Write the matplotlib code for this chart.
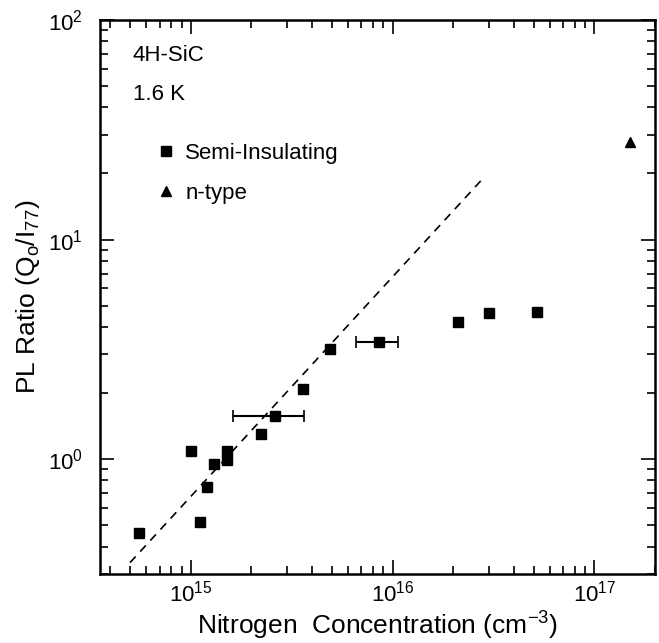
import matplotlib
matplotlib.use("Agg")
import matplotlib.pyplot as plt
from matplotlib.ticker import LogLocator, NullFormatter

plt.rcParams["font.family"] = ["Liberation Sans", "DejaVu Sans"]
plt.rcParams["mathtext.default"] = "regular"

# semi-insulating samples: nitrogen concentration (cm^-3) vs PL ratio
si_conc = [5.56e14, 1.0e15, 1.11e15, 1.21e15, 1.31e15, 1.51e15, 1.51e15,
           2.23e15, 2.62e15, 3.61e15, 4.9e15, 8.55e15, 2.10e16, 3.01e16, 5.2e16]
si_ratio = [0.46, 1.09, 0.52, 0.746, 0.949, 1.094, 0.993,
            1.30, 1.58, 2.09, 3.18, 3.41, 4.23, 4.62, 4.70]

# horizontal error bars (lower/upper concentration) for two points
err_conc = [2.62e15, 8.55e15]
err_ratio = [1.58, 3.41]
err_lo = [1.62e15, 6.58e15]
err_hi = [3.64e15, 1.06e16]

# n-type sample
n_conc = [1.50e17]
n_ratio = [27.7]

# linear (slope 1) guide line
line_conc = [5.0e14, 2.87e16]
line_ratio = [0.338, 19.4]

fig = plt.figure(figsize=(6.59, 6.43), dpi=100)
ax = fig.add_axes([0.151, 0.1073, 0.843, 0.8617])
ax.set_xscale("log")
ax.set_yscale("log")

ax.plot(line_conc, line_ratio, ls=(0, (5, 4)), color="black", lw=1.2)
xerr = [[c - lo for c, lo in zip(err_conc, err_lo)],
        [hi - c for c, hi in zip(err_conc, err_hi)]]
ax.errorbar(err_conc, err_ratio, xerr=xerr, fmt="none", ecolor="black",
            elinewidth=1.5, capsize=4, capthick=1.2)
ax.plot(si_conc, si_ratio, "s", color="black", ms=7.5, ls="none",
        label="Semi-Insulating")
ax.plot(n_conc, n_ratio, "^", color="black", ms=7, ls="none", label="n-type")

ax.set_xlim(3.53e14, 2.0e17)
ax.set_ylim(0.30, 100)

ax.xaxis.set_major_locator(LogLocator(base=10, numticks=10))
ax.xaxis.set_minor_locator(LogLocator(base=10, subs=range(2, 10), numticks=10))
ax.yaxis.set_minor_locator(LogLocator(base=10, subs=range(2, 10), numticks=10))
ax.xaxis.set_minor_formatter(NullFormatter())
ax.yaxis.set_minor_formatter(NullFormatter())

ax.tick_params(which="both", direction="in", top=True, right=True,
               width=1.2, labelsize=16)
ax.tick_params(axis="x", which="major", pad=5)
ax.tick_params(axis="y", which="major", pad=12)
ax.tick_params(which="major", length=10)
ax.tick_params(which="minor", length=6)
for s in ax.spines.values():
    s.set_linewidth(1.8)

ax.set_xlabel("Nitrogen  Concentration (cm$^{-3}$)", fontsize=19, labelpad=2)
ax.set_ylabel("PL Ratio (Q$_o$/I$_{77}$)", fontsize=19, labelpad=4)

ax.text(0.060, 0.935, "4H-SiC", transform=ax.transAxes, fontsize=16,
        va="center", ha="left")
ax.text(0.060, 0.865, "1.6 K", transform=ax.transAxes, fontsize=16,
        va="center", ha="left")

ax.legend(loc="upper left", bbox_to_anchor=(0.103, 0.778), frameon=False,
          fontsize=16, handlelength=0.8, handletextpad=0.48, labelspacing=0.85,
          borderaxespad=0, borderpad=0)

fig.savefig("out.png", dpi=100)
